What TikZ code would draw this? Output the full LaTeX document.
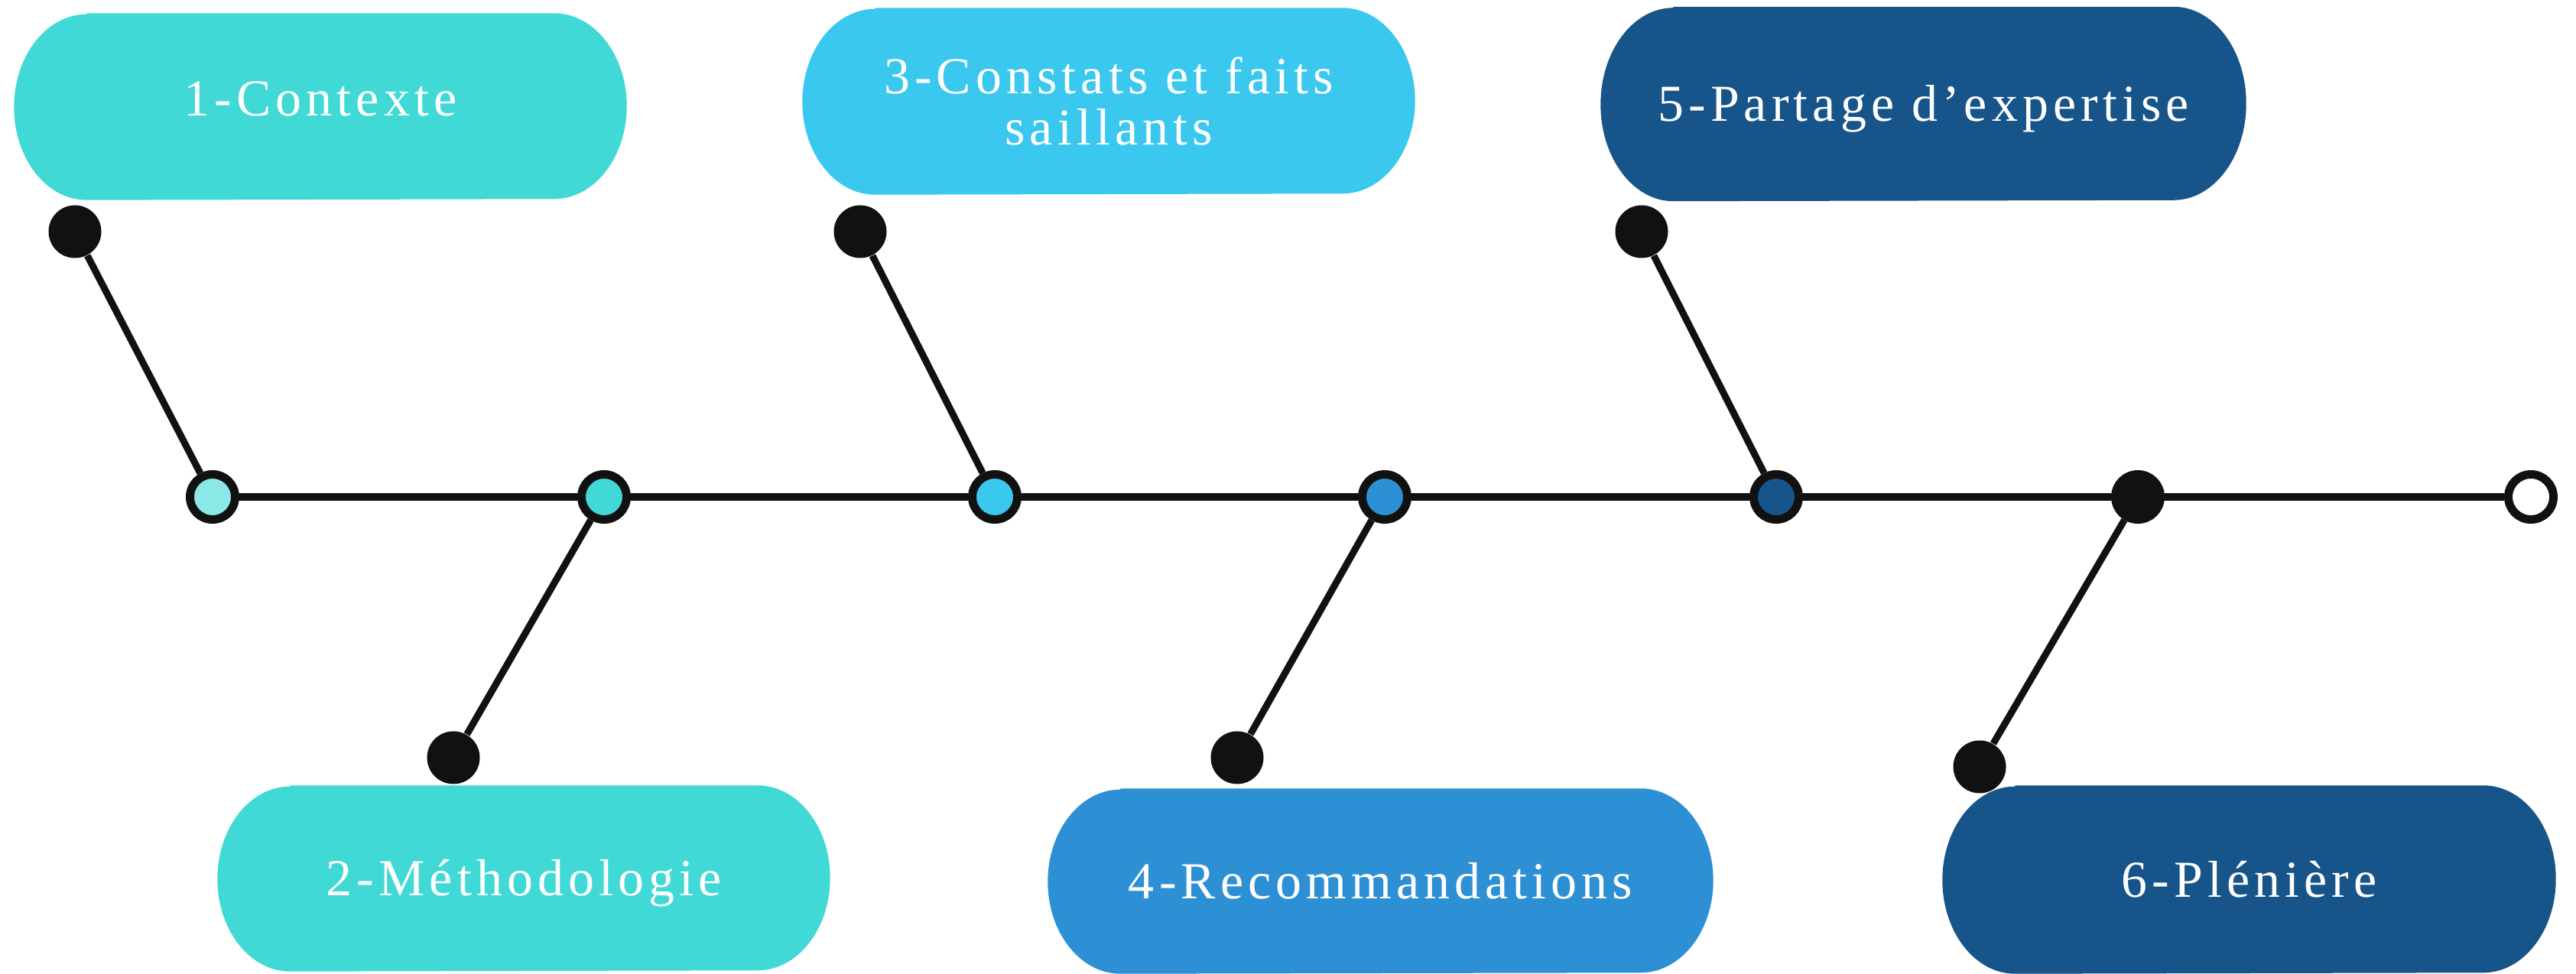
\documentclass[tikz,border=0pt]{standalone}
\usepackage{fontspec}
\newfontfamily\pillfont{Liberation Serif}[LetterSpace=9]
\usepackage{tikz}
\usetikzlibrary{positioning,backgrounds}
\definecolor{ink}{HTML}{111111}
\definecolor{tealpale}{HTML}{8AE9E6}
\definecolor{tealbox}{HTML}{40D9D6}
\definecolor{skybox}{HTML}{3AC8EF}
\definecolor{bluebox}{HTML}{2E90D4}
\definecolor{navybox}{HTML}{17548A}

\begin{document}
\begin{tikzpicture}[
    pill/.style={rectangle, inner sep=0pt, align=center, text=white, font=\pillfont\fontsize{19.3pt}{19.3pt}\selectfont},
    oneline/.style={text height=0.62cm, text depth=0.16cm},
    joint/.style={circle, draw=ink, line width=0.11cm, minimum size=0.59cm, inner sep=0pt},
    knob/.style={circle, fill=ink, minimum size=0.69cm, inner sep=0pt},
    spine/.style={draw=ink, line width=0.10cm},
    bone/.style={draw=ink, line width=0.09cm}
]
\useasboundingbox (0,0) rectangle (33.69,12.73);

% Spine joints
\node[joint, fill=tealpale] (j1) at (2.78,6.23) {};
\node[joint, fill=tealbox] (j2) at (7.90,6.23) {};
\node[joint, fill=skybox] (j3) at (13.01,6.23) {};
\node[joint, fill=bluebox] (j4) at (18.11,6.23) {};
\node[joint, fill=navybox] (j5) at (23.23,6.23) {};
\node[joint, fill=ink] (j6) at (27.96,6.23) {};
\node[joint, fill=white] (tail) at (33.10,6.23) {};

% Branch ends
\node[knob] (k1) at (0.98,9.70) {};
\node[knob] (k3) at (11.25,9.70) {};
\node[knob] (k5) at (21.47,9.70) {};
\node[knob] (k2) at (5.93,2.82) {};
\node[knob] (k4) at (16.18,2.82) {};
\node[knob] (k6) at (25.89,2.70) {};

% Boxes
\node[pill, text height=0.40cm, text depth=0.16cm, minimum width=8.00cm, minimum height=2.43cm] (ctx) at (4.19,11.335) {1-Contexte};
\node[pill, minimum width=8.00cm, minimum height=2.43cm] (const) at (14.50,11.405) {3-Constats et faits\\saillants};
\node[pill, oneline, minimum width=8.43cm, minimum height=2.53cm] (share) at (25.155,11.37) {5-Partage d’expertise};
\node[pill, oneline, minimum width=8.00cm, minimum height=2.42cm] (meth) at (6.85,1.24) {2-Méthodologie};
\node[pill, oneline, minimum width=8.69cm, minimum height=2.41cm] (reco) at (18.055,1.205) {4-Recommandations};
\node[pill, oneline, minimum width=8.01cm, minimum height=2.45cm] (plen) at (29.415,1.225) {6-Plénière};

% Lines
\draw[spine] (j1) -- (j2);
\draw[spine] (j2) -- (j3);
\draw[spine] (j3) -- (j4);
\draw[spine] (j4) -- (j5);
\draw[spine] (j5) -- (j6);
\draw[spine] (j6) -- (tail);
\draw[bone] (k1) -- (j1);
\draw[bone] (k3) -- (j3);
\draw[bone] (k5) -- (j5);
\draw[bone] (j2) -- (k2);
\draw[bone] (j4) -- (k4);
\draw[bone] (j6) -- (k6);

% Box fills
\begin{scope}[on background layer]
\foreach \b/\c/\r in {ctx/tealbox/1.215, const/skybox/1.215, share/navybox/1.265,
                      meth/tealbox/1.21, reco/bluebox/1.205, plen/navybox/1.225}
  \fill[\c] ([xshift=0.95cm]\b.north west) -- ([xshift=-0.95cm]\b.north east)
    arc[start angle=90, end angle=-90, x radius=0.95cm, y radius=\r cm]
    -- ([xshift=0.95cm]\b.south west)
    arc[start angle=270, end angle=90, x radius=0.95cm, y radius=\r cm] -- cycle;
\end{scope}

\end{tikzpicture}
\end{document}
